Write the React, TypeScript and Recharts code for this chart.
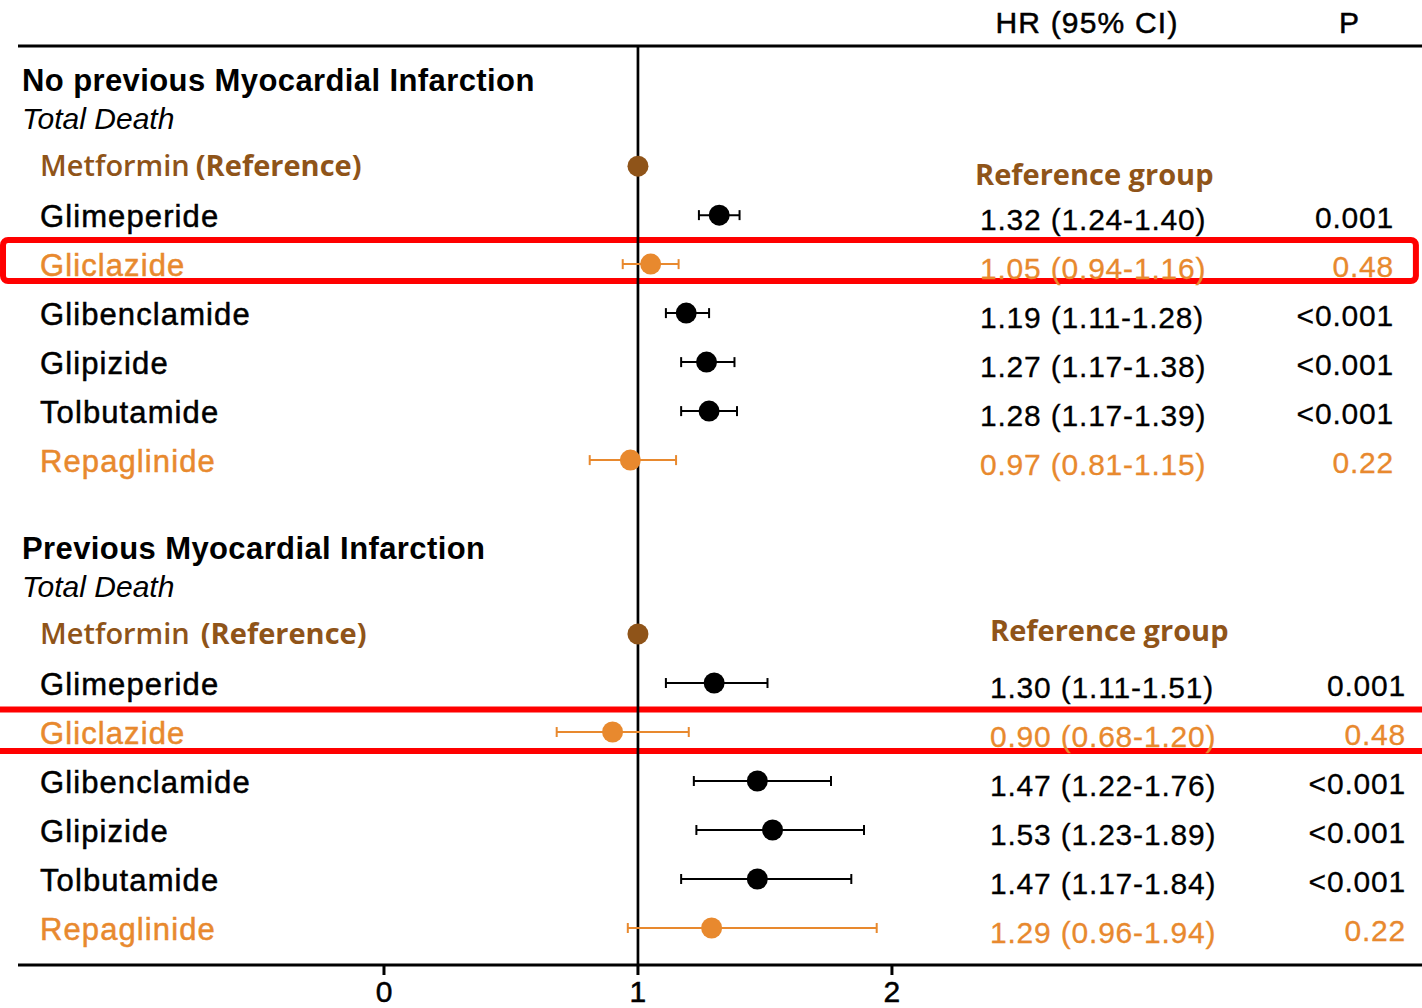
import React from 'react';
import {
  ScatterChart,
  Scatter,
  XAxis,
  YAxis,
  ErrorBar,
  ReferenceLine,
  ReferenceArea,
} from 'recharts';

// ---------- data ----------
const drugs = ['Metformin', 'Glimeperide', 'Gliclazide', 'Glibenclamide', 'Glipizide', 'Tolbutamide', 'Repaglinide'];
const rowKind = ['ref', 'sig', 'ns', 'sig', 'sig', 'sig', 'ns'];

const hrNoMI = [1, 1.32, 1.05, 1.19, 1.27, 1.28, 0.97];
const loNoMI = [1, 1.24, 0.94, 1.11, 1.17, 1.17, 0.81];
const hiNoMI = [1, 1.4, 1.16, 1.28, 1.38, 1.39, 1.15];
const pNoMI = ['', '0.001', '0.48', '<0.001', '<0.001', '<0.001', '0.22'];

const hrMI = [1, 1.3, 0.9, 1.47, 1.53, 1.47, 1.29];
const loMI = [1, 1.11, 0.68, 1.22, 1.23, 1.17, 0.96];
const hiMI = [1, 1.51, 1.2, 1.76, 1.89, 1.84, 1.94];
const pMI = ['', '0.001', '0.48', '<0.001', '<0.001', '<0.001', '0.22'];

const groupTitles = ['No previous Myocardial Infarction', 'Previous Myocardial Infarction'];
const outcome = 'Total Death';
const xTicks = [0, 1, 2];

// ---------- layout ----------
const W = 1422;
const H = 1008;
const groupStart = [2.45, 12.0];
const X_DOMAIN: [number, number] = [-1.441, 4.087];
const Y_DOMAIN: [number, number] = [-0.9, 18.755];

const BLACK = '#000000';
const BROWN = '#8F5419';
const ORANGE = '#E8892E';
const RED = '#FF0000';
const FONT = '"Liberation Sans", Arial, sans-serif';
const FONT_B = '"Open Sans", "Liberation Sans", sans-serif';

const fmt = (v: number) => v.toFixed(2);

type Row = {
  name: string;
  kind: string;
  hr: number;
  lo: number;
  hi: number;
  p: string;
  pos: number;
  group: number;
  err: [number, number];
  hrText: string;
  lx: number;
};

const buildRows = (g: number, hr: number[], lo: number[], hi: number[], p: string[]): Row[] =>
  drugs.map((name, i) => ({
    name,
    kind: rowKind[i],
    hr: hr[i],
    lo: lo[i],
    hi: hi[i],
    p: p[i],
    pos: groupStart[g] + i,
    group: g,
    err: [hr[i] - lo[i], hi[i] - hr[i]],
    hrText: `${fmt(hr[i])} (${fmt(lo[i])}-${fmt(hi[i])})`,
    lx: 1,
  }));

const rows: Row[] = [
  ...buildRows(0, hrNoMI, loNoMI, hiNoMI, pNoMI),
  ...buildRows(1, hrMI, loMI, hiMI, pMI),
];

const refRows = rows.filter((r) => r.kind === 'ref');
const sigRows = rows.filter((r) => r.kind === 'sig');
const nsRows = rows.filter((r) => r.kind === 'ns');

type Title = { kind: string; text: string; pos: number; lx: number };
const titles: Title[] = [
  { kind: 'colhead', text: '', pos: -0.49, lx: 1 },
  ...groupTitles.flatMap((t, g) => [
    { kind: 'title', text: t, pos: groupStart[g] - 1.74, lx: 1 },
    { kind: 'sub', text: outcome, pos: groupStart[g] - 0.98, lx: 1 },
  ]),
];

// pixel columns for text
const NAME_X = 40;
const TITLE_X = 22;
const HR_X = [980, 990];
const P_X = [1394, 1406];

const Dot = (color: string) => (props: any) => {
  const { cx, cy } = props;
  if (cx == null || cy == null) return null;
  return <circle cx={cx} cy={cy} r={10.5} fill={color} />;
};

const RowLabel = (props: any) => {
  const { cy, payload } = props;
  if (cy == null || !payload) return null;
  const r: Row = payload;
  const col = r.kind === 'ref' ? BROWN : r.kind === 'ns' ? ORANGE : BLACK;
  if (r.kind === 'ref') {
    return (
      <g>
        <text x={NAME_X} y={cy - 2} dominantBaseline="central" fontFamily={FONT_B} fontWeight={600} fontSize={29} fill={BROWN}>
          {r.name}
          <tspan dx={r.group === 0 ? 6 : 11} fontWeight={700}>(Reference)</tspan>
        </text>
        <text x={HR_X[r.group] - (r.group === 0 ? 5 : 0)} y={cy + (r.group === 0 ? 7 : -5)} dominantBaseline="central" fontFamily={FONT_B} fontWeight={700} fontSize={29} fill={BROWN}>
          Reference group
        </text>
      </g>
    );
  }
  return (
    <g>
      <text x={NAME_X} y={cy + 1} dominantBaseline="central" fontFamily={FONT} fontSize={31} letterSpacing={1.1} fill={col} stroke={col} strokeWidth={0.5}>
        {r.name}
      </text>
      <text x={HR_X[r.group]} y={cy + 4} dominantBaseline="central" fontFamily={FONT} fontSize={30} letterSpacing={0.8} fill={col} stroke={col} strokeWidth={0.3}>
        {r.hrText}
      </text>
      <text x={P_X[r.group]} y={cy + 2} dominantBaseline="central" textAnchor="end" fontFamily={FONT} fontSize={30} letterSpacing={0.8} fill={col} stroke={col} strokeWidth={0.3}>
        {r.p}
      </text>
    </g>
  );
};

const TitleLabel = (props: any) => {
  const { cy, payload } = props;
  if (cy == null || !payload) return null;
  const t: Title = payload;
  if (t.kind === 'colhead') {
    return (
      <g>
        <text x={1087} y={cy} dominantBaseline="central" textAnchor="middle" fontFamily={FONT} fontSize={30} letterSpacing={1.2} fill={BLACK} stroke={BLACK} strokeWidth={0.5}>
          HR (95% CI)
        </text>
        <text x={1349} y={cy} dominantBaseline="central" textAnchor="middle" fontFamily={FONT} fontSize={30} fill={BLACK} stroke={BLACK} strokeWidth={0.5}>
          P
        </text>
      </g>
    );
  }
  if (t.kind === 'title') {
    return (
      <text x={TITLE_X} y={cy} dominantBaseline="central" fontFamily={FONT} fontWeight={700} fontSize={31} letterSpacing={0.4} fill={BLACK}>
        {t.text}
      </text>
    );
  }
  return (
    <text x={TITLE_X} y={cy} dominantBaseline="central" fontFamily={FONT} fontStyle="italic" fontSize={30} fill={BLACK}>
      {t.text}
    </text>
  );
};

const RedBox = (props: any) => {
  const { x, y, width, height } = props;
  return <rect x={x} y={y} width={width} height={height} rx={5} ry={5} fill="none" stroke={RED} strokeWidth={6} />;
};

export default function App() {
  return (
    <div style={{ position: 'absolute', left: 0, top: 0, width: W, height: H, background: '#fff' }}>
      <ScatterChart width={W} height={H} margin={{ top: 2, right: 0, bottom: 0, left: 18 }}>
        <XAxis
          type="number"
          dataKey="hr"
          domain={X_DOMAIN}
          ticks={xTicks}
          allowDataOverflow
          height={43}
          tickSize={10}
          tickMargin={6}
          axisLine={{ stroke: BLACK, strokeWidth: 3 }}
          tickLine={{ stroke: BLACK, strokeWidth: 3 }}
          tick={{ fill: BLACK, fontSize: 30, fontFamily: FONT, stroke: BLACK, strokeWidth: 0.5 }}
        />
        <YAxis type="number" dataKey="pos" domain={Y_DOMAIN} reversed hide allowDataOverflow />
        <ReferenceLine y={0} stroke={BLACK} strokeWidth={3} ifOverflow="visible" />
        <ReferenceLine segment={[{ x: 1, y: 0 }, { x: 1, y: Y_DOMAIN[1] }]} stroke={BLACK} strokeWidth={2.7} ifOverflow="visible" />

        <Scatter data={titles} dataKey="lx" shape={TitleLabel} isAnimationActive={false} />
        <Scatter data={rows} dataKey="lx" shape={RowLabel} isAnimationActive={false} />

        <Scatter data={sigRows} dataKey="hr" shape={Dot(BLACK)} isAnimationActive={false}>
          <ErrorBar dataKey="err" direction="x" width={5} stroke={BLACK} strokeWidth={2} />
        </Scatter>
        <Scatter data={nsRows} dataKey="hr" shape={Dot(ORANGE)} isAnimationActive={false}>
          <ErrorBar dataKey="err" direction="x" width={5} stroke={ORANGE} strokeWidth={2} />
        </Scatter>
        <Scatter data={refRows} dataKey="hr" shape={Dot(BROWN)} isAnimationActive={false} />

        <ReferenceArea x1={-1.5} x2={4.063} y1={3.958} y2={4.794} ifOverflow="visible" shape={RedBox} />
        <ReferenceArea x1={-1.7} x2={4.3} y1={13.54} y2={14.387} ifOverflow="visible" shape={RedBox} />
      </ScatterChart>
    </div>
  );
}
